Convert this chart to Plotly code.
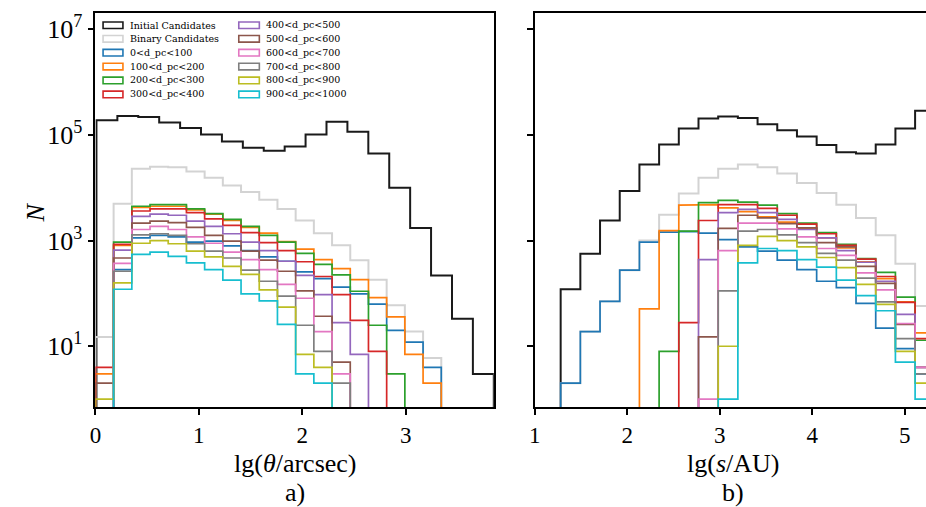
import numpy as np
import plotly.graph_objects as go

# ---------------- data: histogram counts per bin ----------------
# left panel: angular separation lg(theta/arcsec)
theta_all_start, theta_all_width = 0.01, 0.2022      # bins of "Initial Candidates"
theta_bin_start, theta_bin_width = 0.0, 0.176        # bins of binaries / distance slices

initial_theta = [190500, 229000, 219000, 172000, 135000, 102000, 75000, 57500, 50100, 60300,
                 102000, 178000, 115000, 44700, 10000, 1740, 219, 33, 3]
binary_theta = [15, 5000, 22900, 25100, 24500, 20400, 15500, 11000, 8300, 5900,
                3980, 2400, 1380, 813, 427, 182, 60, 19, 6]
dist_theta = {
    "0<d_pc<100":    [0, 282, 1122, 1259, 1175, 933, 977, 794, 646, 490, 407, 257, 191, 132, 98, 63, 20, 12, 4],
    "100<d_pc<200":  [3, 813, 4266, 4467, 4467, 3802, 3162, 2399, 1778, 1380, 955, 692, 437, 295, 182, 83, 36, 7, 2],
    "200<d_pc<300":  [0, 933, 4467, 4786, 4786, 3981, 3236, 2512, 1862, 1259, 933, 575, 355, 224, 110, 25, 3, 0, 0],
    "300<d_pc<400":  [4, 851, 3631, 3981, 3981, 3388, 2570, 1950, 1413, 912, 646, 398, 209, 95, 31, 8, 0, 0, 0],
    "400<d_pc<500":  [0, 661, 2884, 3162, 3020, 2344, 1862, 1349, 933, 646, 407, 219, 95, 28, 7, 0, 0, 0, 0],
    "500<d_pc<600":  [2, 468, 2138, 2344, 2188, 1778, 1259, 977, 631, 427, 263, 112, 37, 5, 0, 0, 0, 0, 0],
    "600<d_pc<700":  [0, 372, 1622, 1862, 1622, 1175, 891, 603, 437, 282, 148, 81, 19, 3, 0, 0, 0, 0, 0],
    "700<d_pc<800":  [0, 263, 1288, 1349, 1259, 871, 631, 468, 275, 170, 89, 25, 8, 2, 0, 0, 0, 0, 0],
    "800<d_pc<900":  [1, 158, 891, 1000, 871, 631, 490, 324, 229, 117, 55, 7, 4, 0, 0, 0, 0, 0, 0],
    "900<d_pc<1000": [0, 120, 550, 603, 501, 380, 282, 178, 98, 72, 26, 3, 2, 0, 0, 0, 0, 0, 0],
}

# right panel: projected separation lg(s/AU)
s_bin_start, s_bin_width = 1.279, 0.2129

initial_s = [120, 562, 2399, 8710, 27540, 66070, 131800, 204200, 223900, 208900,
             158500, 123000, 93300, 64600, 46800, 44700, 66100, 131800, 288400]
binary_s = [2, 19, 71, 275, 1000, 3090, 7760, 15500, 22900, 27500,
            24500, 18600, 12300, 7940, 4790, 2690, 1260, 363, 58]
dist_s = {
    "0<d_pc<100":    [2, 19, 71, 275, 933, 1445, 1479, 1380, 1047, 759, 631, 427, 282, 170, 129, 65, 22, 9, 3],
    "100<d_pc<200":  [0, 0, 0, 0, 51, 1549, 4677, 4786, 4169, 3548, 2818, 2239, 1660, 1122, 724, 398, 191, 69, 18],
    "200<d_pc<300":  [0, 0, 0, 0, 0, 8, 1514, 5248, 5754, 5370, 4677, 3236, 2138, 1413, 851, 457, 251, 85, 13],
    "300<d_pc<400":  [0, 0, 0, 0, 0, 0, 28, 2399, 4786, 4786, 4074, 3020, 2042, 1349, 813, 447, 209, 68, 14],
    "400<d_pc<500":  [0, 0, 0, 0, 0, 0, 0, 437, 3388, 3890, 3388, 2512, 1622, 1122, 646, 389, 170, 40, 4],
    "500<d_pc<600":  [0, 0, 0, 0, 0, 0, 0, 15, 1698, 3020, 2692, 2089, 1738, 912, 759, 324, 155, 26, 4],
    "600<d_pc<700":  [0, 0, 0, 0, 0, 0, 0, 1, 646, 2138, 2138, 1660, 1175, 708, 525, 245, 117, 27, 4],
    "700<d_pc<800":  [0, 0, 0, 0, 0, 0, 0, 0, 112, 1514, 1622, 1288, 912, 575, 427, 195, 69, 14, 3],
    "800<d_pc<900":  [0, 0, 0, 0, 0, 0, 0, 0, 10, 813, 1202, 1000, 759, 479, 309, 148, 62, 8, 2],
    "900<d_pc<1000": [0, 0, 0, 0, 0, 0, 0, 0, 1, 380, 708, 646, 437, 316, 178, 91, 47, 5, 1],
}

colors = ["#1f77b4", "#ff7f0e", "#2ca02c", "#d62728", "#9467bd",
          "#8c564b", "#e377c2", "#7f7f7f", "#bcbd22", "#17becf"]
black, light = "#1a1a1a", "#d3d3d3"

# ---------------- helpers ----------------
W, H = 926, 507
FLOOR = 0.1          # stand-in for empty bins on the log axis (below the visible range)


def edges(start, width, n):
    return [start + k * width for k in range(n + 1)]


def step_outline(e, counts):
    xs, ys = [e[0]], [FLOOR]
    for i, c in enumerate(counts):
        v = c if c > 0 else FLOOR
        xs += [e[i], e[i + 1]]
        ys += [v, v]
    xs.append(e[-1])
    ys.append(FLOOR)
    return xs, ys


fig = go.Figure()


def add_hist(e, counts, color, width, xa, ya):
    xs, ys = step_outline(e, counts)
    fig.add_trace(go.Scatter(x=xs, y=ys, mode="lines", xaxis=xa, yaxis=ya,
                             line=dict(color=color, width=width),
                             showlegend=False, hoverinfo="skip"))


e_all_t = edges(theta_all_start, theta_all_width, len(initial_theta))
e_t = edges(theta_bin_start, theta_bin_width, len(binary_theta))
e_s = edges(s_bin_start, s_bin_width, len(initial_s))

add_hist(e_all_t, initial_theta, black, 2.0, "x", "y")
add_hist(e_t, binary_theta, light, 2.0, "x", "y")
for c, (name, vals) in zip(colors, dist_theta.items()):
    add_hist(e_t, vals, c, 1.7, "x", "y")

add_hist(e_s, initial_s, black, 2.0, "x2", "y2")
add_hist(e_s, binary_s, light, 2.0, "x2", "y2")
for c, (name, vals) in zip(colors, dist_s.items()):
    add_hist(e_s, vals, c, 1.7, "x2", "y2")

# ---------------- axes ----------------
serif = "Liberation Serif"
ydom = [1 - 407.3 / H, 1 - 11.7 / H]
yrange = [-0.159, 7.314]
ytick_vals = [10, 1000, 1e5, 1e7]
ytick_text = ["10<sup>1</sup>", "10<sup>3</sup>", "10<sup>5</sup>", "10<sup>7</sup>"]

common_x = dict(showline=True, linecolor="black", linewidth=1.5, ticks="outside",
                ticklen=6, tickwidth=1.5, tickcolor="black", showgrid=False, zeroline=False,
                tickfont=dict(family=serif, size=23, color="black"))
common_y = dict(type="log", range=yrange, showline=True, linecolor="black", linewidth=1.5,
                ticks="outside", ticklen=6, tickwidth=1.5, tickcolor="black", showgrid=False,
                zeroline=False, tickvals=ytick_vals,
                tickfont=dict(family=serif, size=26, color="black"))

fig.update_layout(
    width=W, height=H, margin=dict(l=0, r=0, t=0, b=0),
    paper_bgcolor="white", plot_bgcolor="white",
    xaxis=dict(domain=[90 / W, 491 / W], range=[0, 3.852], tickvals=[0, 1, 2, 3],
               mirror=True, anchor="y", **common_x),
    yaxis=dict(domain=ydom, mirror=True, anchor="x", ticktext=ytick_text, **common_y),
    xaxis2=dict(domain=[532.3 / W, 1.0], range=[1, 5.229], tickvals=[1, 2, 3, 4, 5],
                mirror=True, anchor="y2", **common_x),
    yaxis2=dict(domain=ydom, mirror=False, anchor="x2", showticklabels=False, **common_y),
)

# ---------------- axis titles ----------------
ann = []
title_font = dict(family=serif, size=26, color="black")


def label(text, px, py, **kw):
    ann.append(dict(text=text, x=px / W, y=1 - py / H, xref="paper", yref="paper",
                    xanchor="center", yanchor="middle", showarrow=False,
                    font=title_font, **kw))


label("<i>N</i>", 30, 212, textangle=-90)
label("lg(<i>θ</i>/arcsec)", 291, 463)
label("a)", 291, 492)
label("lg(<i>s</i>/AU)", 732, 463)
label("b)", 732, 492)

# ---------------- legend (outlined patches, two columns) ----------------
labels = ["Initial Candidates", "Binary Candidates"] + list(dist_theta.keys())
patch_cols = [black, light] + colors
shapes = []
row_y = [24.3, 37.9, 51.8, 65.7, 79.6, 93.6]
col_x = [(97.7, 117.7, 123.0), (234.3, 255.0, 260.0)]
for i, (lab, col) in enumerate(zip(labels, patch_cols)):
    cx0, cx1, tx = col_x[i // 6]
    yc = row_y[i % 6]
    shapes.append(dict(type="rect", xref="paper", yref="paper",
                       x0=cx0 / W, x1=cx1 / W, y0=1 - (yc + 3.3) / H, y1=1 - (yc - 3.3) / H,
                       line=dict(color=col, width=1.6), fillcolor="rgba(0,0,0,0)"))
    ann.append(dict(text=lab, x=tx / W, y=1 - yc / H, xref="paper", yref="paper",
                    xanchor="left", yanchor="middle", showarrow=False,
                    font=dict(family="DejaVu Serif", size=9.5, color="black")))

fig.update_layout(annotations=ann, shapes=shapes)
fig.write_html("out.html")
